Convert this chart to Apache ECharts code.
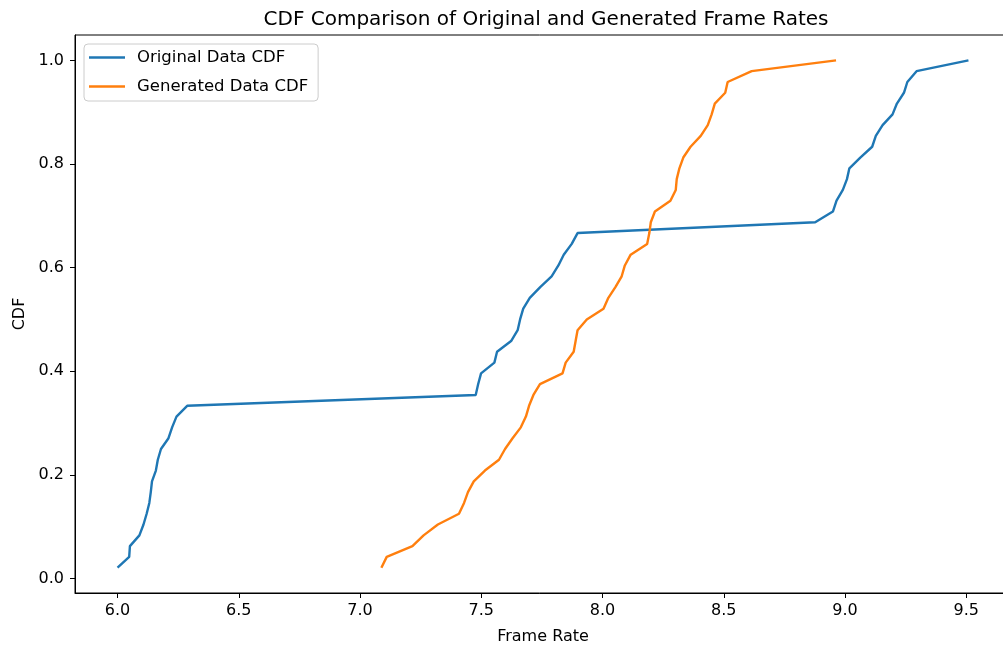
<!DOCTYPE html>
<html>
<head>
<meta charset="utf-8">
<script src="https://cdn.jsdelivr.net/npm/echarts@6/dist/echarts.min.js"></script>
<style>
html,body{margin:0;padding:0;background:#fff;overflow:hidden;}
#chart{width:1003px;height:645px;}
</style>
</head>
<body>
<div id="chart"></div>
<script>
// CDF levels (k/48, shared by both series)
const cdfLevels = [0.0208,0.0417,0.0625,0.0833,0.1042,0.125,0.1458,0.1667,0.1875,0.2083,
  0.2292,0.25,0.2708,0.2917,0.3125,0.3333,0.3542,0.375,0.3958,0.4167,
  0.4375,0.4583,0.4792,0.5,0.5208,0.5417,0.5625,0.5833,0.6042,0.625,
  0.6458,0.6667,0.6875,0.7083,0.7292,0.75,0.7708,0.7917,0.8125,0.8333,
  0.8542,0.875,0.8958,0.9167,0.9375,0.9583,0.9792,1.0];

// Sorted frame rates, original data
const originalFrameRates = [6.000,6.048,6.051,6.090,6.107,6.120,6.131,6.137,6.142,6.158,
  6.166,6.179,6.210,6.225,6.243,6.287,7.477,7.487,7.499,7.554,
  7.565,7.623,7.650,7.660,7.673,7.700,7.743,7.790,7.818,7.840,
  7.873,7.897,8.877,8.950,8.965,8.991,9.008,9.018,9.063,9.112,
  9.127,9.155,9.196,9.214,9.243,9.257,9.295,9.509];

// Sorted frame rates, generated data
const generatedFrameRates = [7.088,7.110,7.216,7.262,7.321,7.408,7.429,7.445,7.469,7.515,
  7.573,7.598,7.629,7.663,7.684,7.697,7.715,7.742,7.835,7.848,
  7.881,7.889,7.897,7.935,8.004,8.024,8.053,8.079,8.092,8.116,
  8.184,8.193,8.199,8.216,8.280,8.302,8.306,8.317,8.333,8.363,
  8.405,8.434,8.450,8.463,8.506,8.516,8.615,8.963];

const xTicks = [6.0,6.5,7.0,7.5,8.0,8.5,9.0,9.5];
const yTicks = [0.0,0.2,0.4,0.6,0.8,1.0];

const seriesNames = ['Original Data CDF','Generated Data CDF'];

function pairs(xs, ys){ return xs.map((x,i)=>[x, ys[i]]); }

const chart = echarts.init(document.getElementById('chart'), null, {renderer:'canvas'});
const FONT = 'DejaVu Sans';
chart.setOption({
  animation:false,
  backgroundColor:'#fff',
  textStyle:{fontFamily:FONT},
  title:{
    text:'CDF Comparison of Original and Generated Frame Rates',
    left:541, top:5, textAlign:'center',
    textStyle:{fontFamily:FONT,fontSize:20,fontWeight:'normal',color:'#000'}
  },
  legend:{
    data:seriesNames,
    orient:'vertical',
    left:84, top:44,
    icon:'path://M0,0H36V2.4H0Z',
    itemWidth:36, itemHeight:14, itemGap:12,
    padding:[5,10,6,5],
    backgroundColor:'rgba(255,255,255,0.8)',
    borderColor:'#cccccc', borderWidth:1, borderRadius:4,
    textStyle:{fontFamily:FONT,fontSize:16.5,color:'#000',padding:[0,0,0,7]}
  },
  grid:{left:75,width:936,top:35,bottom:52,show:true,borderColor:'#000',borderWidth:1,
    containLabel:false,outerBoundsMode:'none'},
  xAxis:{
    type:'value', min:5.8245, max:9.6845,
    name:'Frame Rate', nameLocation:'middle', nameGap:36,
    nameTextStyle:{fontFamily:FONT,fontSize:16,color:'#000'},
    axisLine:{show:true,onZero:false,lineStyle:{color:'#000',width:1}},
    axisTick:{show:true,length:5,lineStyle:{color:'#000'},customValues:xTicks},
    axisLabel:{fontFamily:FONT,fontSize:16,color:'#000',margin:10,customValues:xTicks,
      formatter:v=>v.toFixed(1)},
    splitLine:{show:false}
  },
  yAxis:{
    type:'value', min:-0.028, max:1.049,
    name:'CDF', nameLocation:'middle', nameGap:39,
    nameTextStyle:{fontFamily:FONT,fontSize:16,color:'#000'},
    axisLine:{show:true,onZero:false,lineStyle:{color:'#000',width:1}},
    axisTick:{show:true,length:5,lineStyle:{color:'#000'},customValues:yTicks},
    axisLabel:{fontFamily:FONT,fontSize:16,color:'#000',margin:11,customValues:yTicks,
      formatter:v=>v.toFixed(1)},
    splitLine:{show:false}
  },
  series:[
    {name:seriesNames[0],type:'line',data:pairs(originalFrameRates,cdfLevels),
      symbol:'none',color:'#1f77b4',lineStyle:{width:2.4,color:'#1f77b4'}},
    {name:seriesNames[1],type:'line',data:pairs(generatedFrameRates,cdfLevels),
      symbol:'none',color:'#ff7f0e',lineStyle:{width:2.4,color:'#ff7f0e'}}
  ]
});
</script>
</body>
</html>
